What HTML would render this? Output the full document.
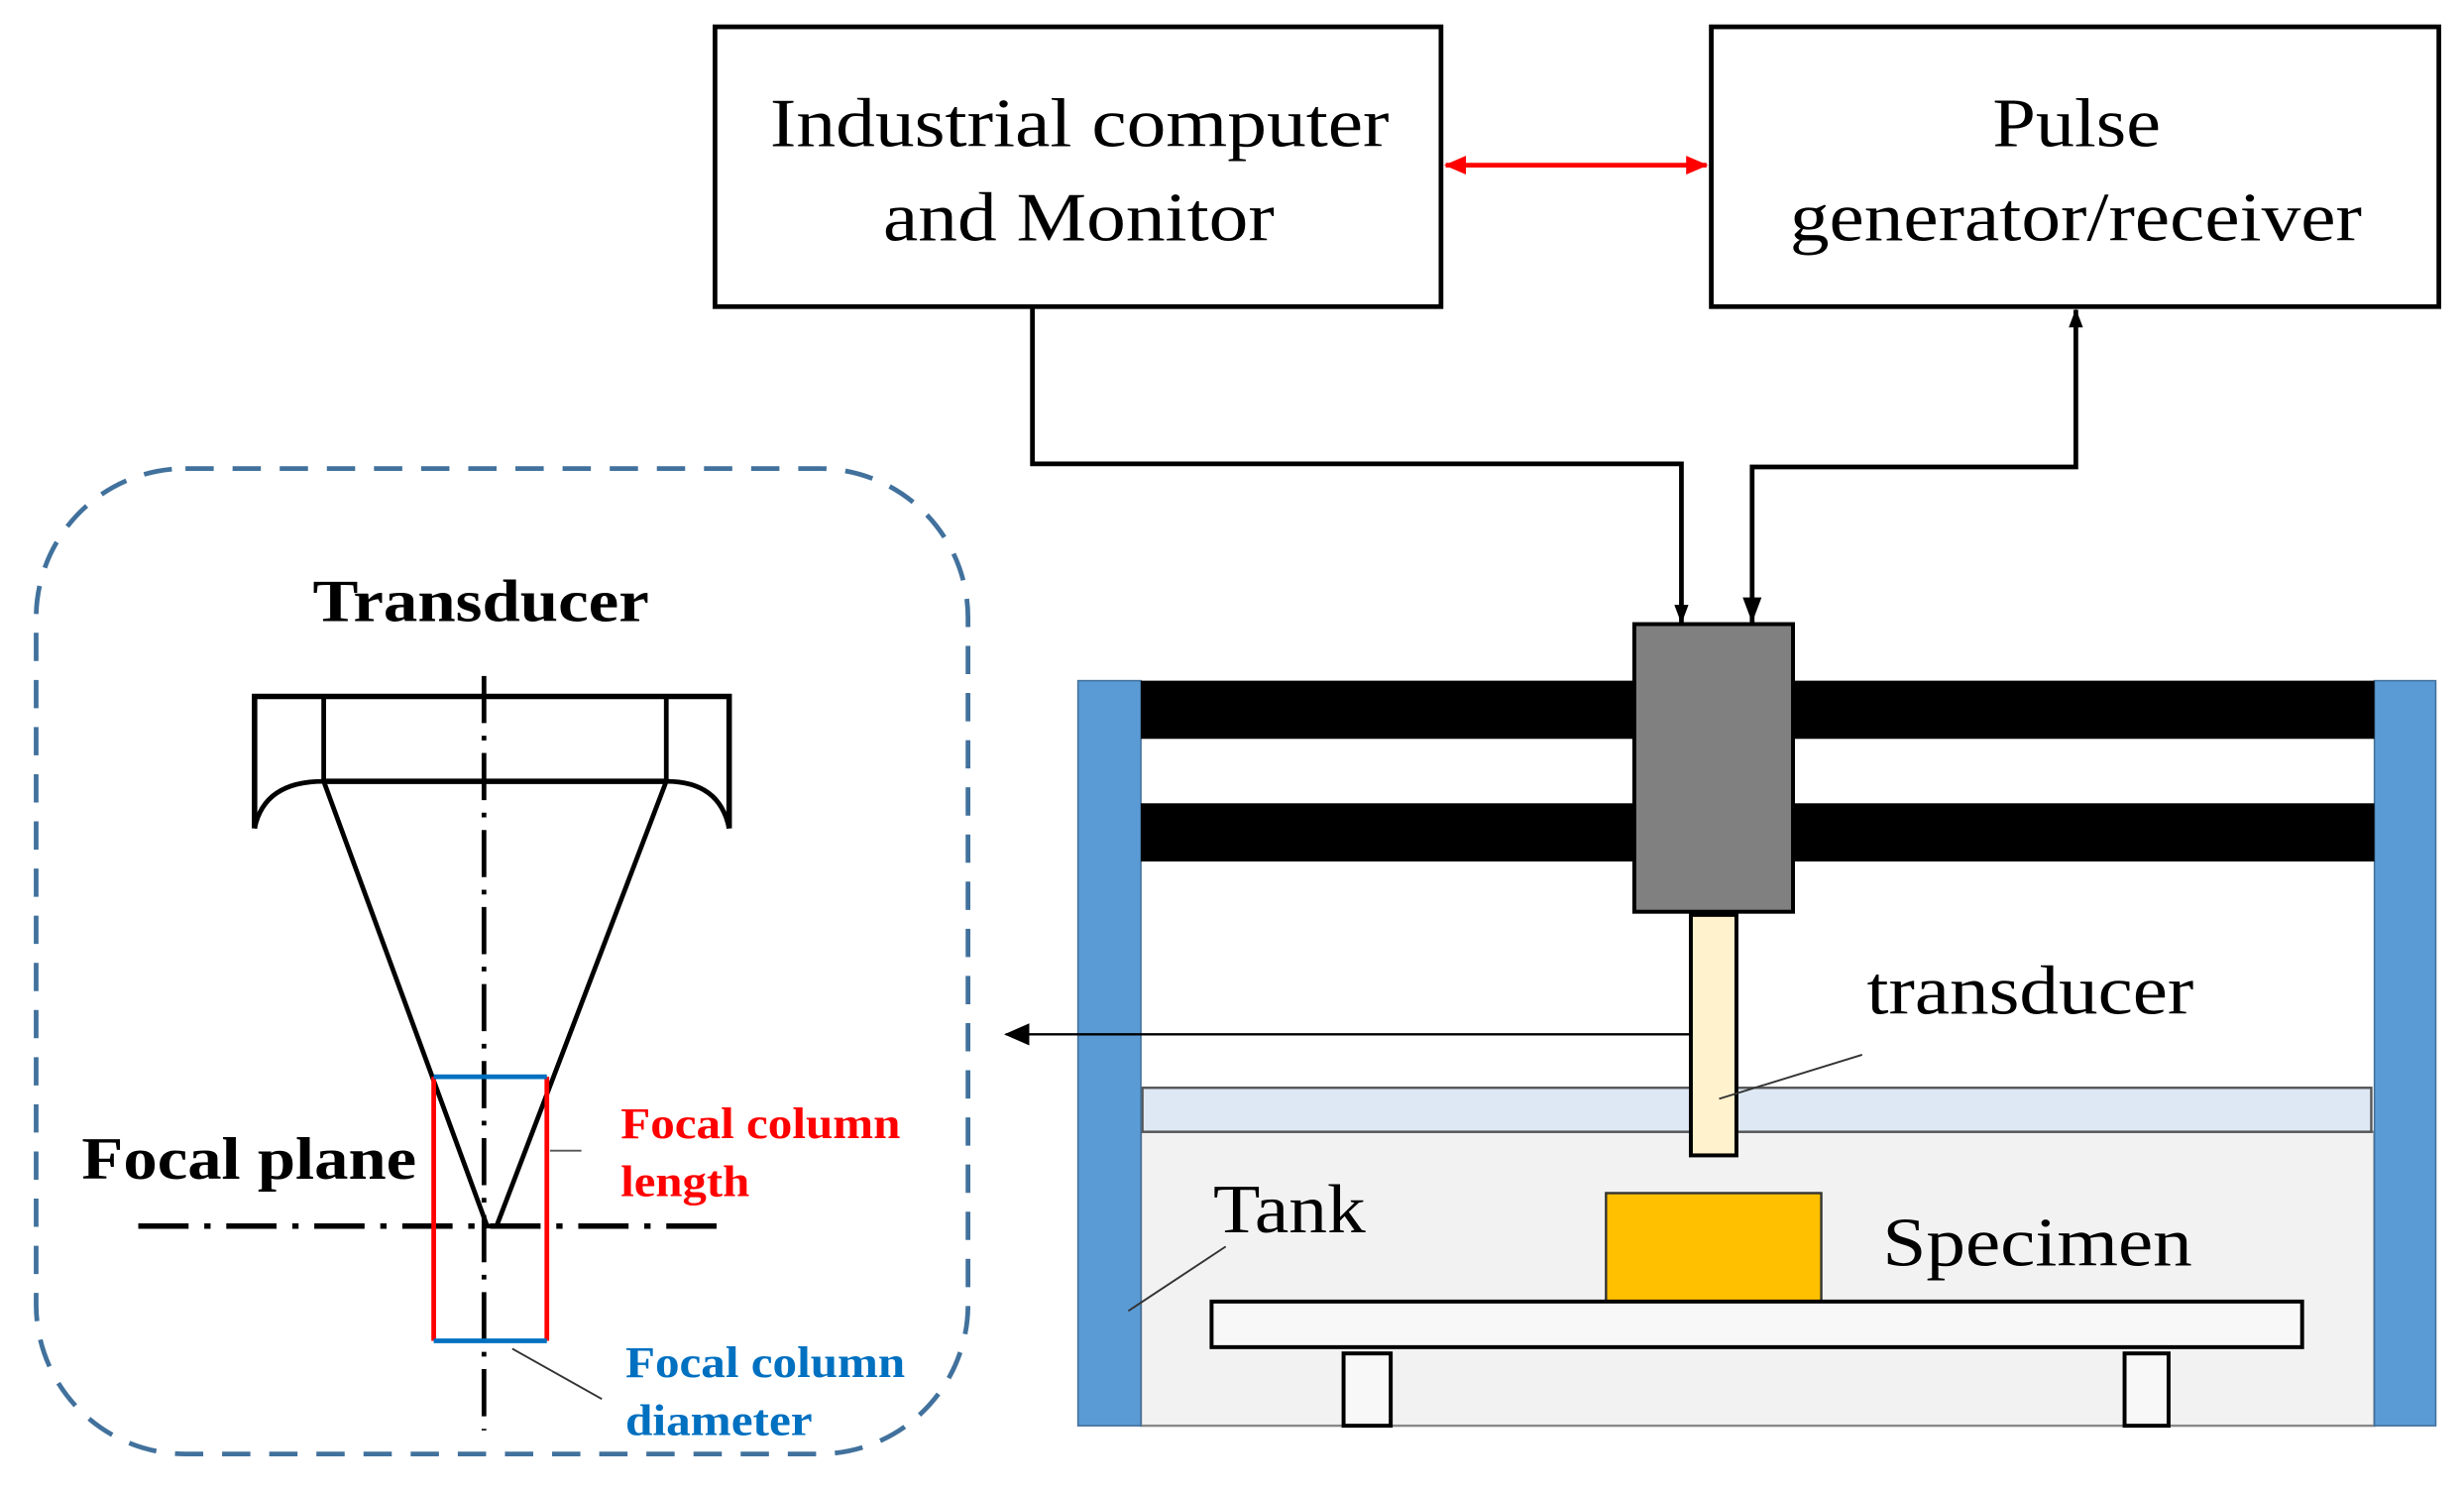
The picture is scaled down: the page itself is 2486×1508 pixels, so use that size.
<!DOCTYPE html>
<html><head><meta charset="utf-8"><style>
html,body{margin:0;padding:0;background:#fff;}
svg{display:block;}
text{font-family:"Liberation Serif",serif;}
</style></head><body>
<svg width="2486" height="1508" viewBox="0 0 1568 951" xmlns="http://www.w3.org/2000/svg">
<defs>
<marker id="ab" markerWidth="12" markerHeight="16" refX="15" refY="6" orient="auto" markerUnits="userSpaceOnUse" viewBox="0 0 16 12"><path d="M0,0 L16,6 L0,12 z" fill="#000"/></marker>
<marker id="ar" markerWidth="14" markerHeight="12" refX="13" refY="6" orient="auto-start-reverse" markerUnits="userSpaceOnUse" viewBox="0 0 14 12"><path d="M0,0 L14,6 L0,12 z" fill="#ff0000"/></marker>
<marker id="ak" markerWidth="16" markerHeight="14" refX="15" refY="7" orient="auto" markerUnits="userSpaceOnUse" viewBox="0 0 16 14"><path d="M0,0 L16,7 L0,14 z" fill="#000"/></marker>
</defs>
<rect x="455" y="17" width="462" height="178" fill="#fff" stroke="#000" stroke-width="3"/>
<text x="490" y="93" font-size="44" textLength="394" lengthAdjust="spacingAndGlyphs">Industrial computer</text>
<text x="562" y="153" font-size="44" textLength="249" lengthAdjust="spacingAndGlyphs">and Monitor</text>
<rect x="1089" y="17" width="463" height="178" fill="#fff" stroke="#000" stroke-width="3"/>
<text x="1268" y="93" font-size="44" textLength="107" lengthAdjust="spacingAndGlyphs">Pulse</text>
<text x="1139" y="153" font-size="44" textLength="364" lengthAdjust="spacingAndGlyphs">generator/receiver</text>
<line x1="920" y1="105" x2="1086" y2="105" stroke="#ff0000" stroke-width="3" marker-start="url(#ar)" marker-end="url(#ar)"/>
<polyline points="657,195 657,295 1070,295 1070,396" fill="none" stroke="#000" stroke-width="3" marker-end="url(#ab)"/>
<polyline points="1115,396 1115,297 1321,297 1321,197" fill="none" stroke="#000" stroke-width="3" marker-end="url(#ab)"/>
<path d="M1109,380 L1121,380 L1115,396 z" fill="#000"/>
<rect x="726" y="720" width="785" height="187" fill="#f2f2f2" stroke="#888" stroke-width="1.5"/>
<rect x="727" y="692" width="782" height="28" fill="#dde8f4" stroke="#555" stroke-width="1.5"/>
<rect x="686" y="433" width="40" height="474" fill="#5b9bd5" stroke="#41719c" stroke-width="1"/>
<rect x="1511" y="433" width="39" height="474" fill="#5b9bd5" stroke="#41719c" stroke-width="1"/>
<rect x="726" y="433" width="785" height="37" fill="#000"/>
<rect x="726" y="511" width="785" height="37" fill="#000"/>
<rect x="1040" y="397" width="101" height="183" fill="#808080" stroke="#000" stroke-width="2.5"/>
<rect x="1076" y="582" width="29" height="153" fill="#fff2cc" stroke="#000" stroke-width="2.5"/>
<line x1="1076" y1="658" x2="640" y2="658" stroke="#000" stroke-width="1.5" marker-end="url(#ak)"/>
<line x1="1185" y1="671" x2="1094" y2="699" stroke="#333" stroke-width="1.2"/>
<text x="1188" y="645" font-size="44" textLength="208" lengthAdjust="spacingAndGlyphs">transducer</text>
<rect x="1022" y="759" width="137" height="69" fill="#ffc000" stroke="#333" stroke-width="1.5"/>
<rect x="771" y="828" width="694" height="29" fill="#f8f8f8" stroke="#000" stroke-width="2.5"/>
<rect x="855" y="861" width="30" height="46" fill="#f8f8f8" stroke="#000" stroke-width="2.5"/>
<rect x="1352" y="861" width="28" height="46" fill="#f8f8f8" stroke="#000" stroke-width="2.5"/>
<text x="772" y="784" font-size="44" textLength="97" lengthAdjust="spacingAndGlyphs">Tank</text>
<line x1="780" y1="793" x2="718" y2="834" stroke="#333" stroke-width="1.2"/>
<text x="1198" y="805" font-size="44" textLength="197" lengthAdjust="spacingAndGlyphs">Specimen</text>
<rect x="23" y="298" width="593" height="627" rx="95" ry="95" fill="none" stroke="#41719c" stroke-width="3" stroke-dasharray="18,12"/>
<text x="199" y="395" font-size="38" font-weight="bold" textLength="214" lengthAdjust="spacingAndGlyphs">Transducer</text>
<line x1="308" y1="430" x2="308" y2="910" stroke="#000" stroke-width="3" stroke-dasharray="30,8,3,8"/>
<line x1="88" y1="780" x2="460" y2="780" stroke="#000" stroke-width="3.5" stroke-dasharray="32,10,4,10"/>
<path d="M162,527 L162,443 L464,443 L464,527" fill="none" stroke="#000" stroke-width="3.5"/>
<line x1="206" y1="443" x2="206" y2="497" stroke="#000" stroke-width="3"/>
<line x1="424" y1="443" x2="424" y2="497" stroke="#000" stroke-width="3"/>
<line x1="206" y1="497" x2="424" y2="497" stroke="#000" stroke-width="3.5"/>
<path d="M162,527 Q168,497 206,497" fill="none" stroke="#000" stroke-width="3"/>
<path d="M464,527 Q458,497 424,497" fill="none" stroke="#000" stroke-width="3"/>
<polyline points="206,497 310,780 316,780 424,497" fill="none" stroke="#000" stroke-width="3"/>
<line x1="276" y1="685" x2="276" y2="853" stroke="#ff0000" stroke-width="3"/>
<line x1="348" y1="685" x2="348" y2="853" stroke="#ff0000" stroke-width="3"/>
<line x1="276" y1="685" x2="348" y2="685" stroke="#0070c0" stroke-width="3"/>
<line x1="276" y1="853" x2="348" y2="853" stroke="#0070c0" stroke-width="3"/>
<line x1="350" y1="732" x2="370" y2="732" stroke="#555" stroke-width="1.2"/>
<line x1="326" y1="858" x2="383" y2="890" stroke="#333" stroke-width="1.2"/>
<text x="52" y="750" font-size="38" font-weight="bold" textLength="213" lengthAdjust="spacingAndGlyphs">Focal plane</text>
<text x="395" y="724" font-size="28" font-weight="bold" fill="#ff0000" textLength="178" lengthAdjust="spacingAndGlyphs">Focal column</text>
<text x="395" y="761" font-size="28" font-weight="bold" fill="#ff0000" textLength="82" lengthAdjust="spacingAndGlyphs">length</text>
<text x="398" y="876" font-size="28" font-weight="bold" fill="#0070c0" textLength="178" lengthAdjust="spacingAndGlyphs">Focal column</text>
<text x="398" y="913" font-size="28" font-weight="bold" fill="#0070c0" textLength="119" lengthAdjust="spacingAndGlyphs">diameter</text>
</svg>
</body></html>
